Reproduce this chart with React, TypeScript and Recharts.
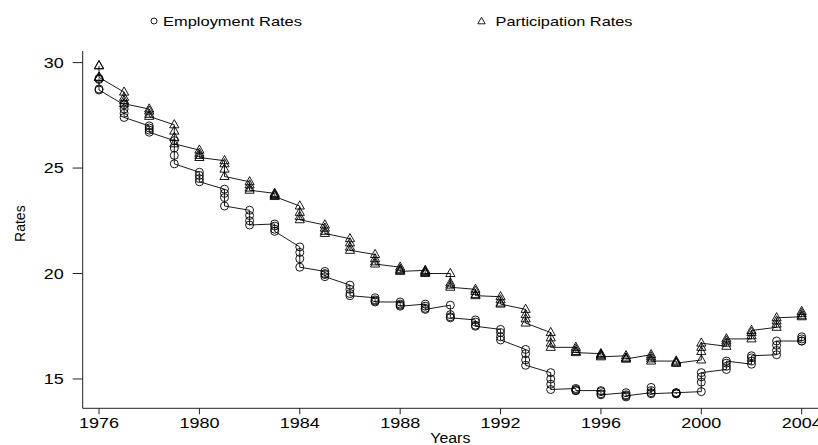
import React from 'react';
import { LineChart, Line, XAxis, YAxis, Legend } from 'recharts';

const years = [
  1976, 1977, 1978, 1979, 1980, 1981, 1982, 1983, 1984, 1985,
  1986, 1987, 1988, 1989, 1990, 1991, 1992, 1993, 1994, 1995,
  1996, 1997, 1998, 1999, 2000, 2001, 2002, 2003, 2004,
];

// Four observations per year, in time order
const employmentRates = [
  [29.25, 29.2, 28.75, 28.7],
  [28.0, 27.8, 27.6, 27.4],
  [27.0, 26.9, 26.8, 26.7],
  [26.3, 25.95, 25.6, 25.2],
  [24.8, 24.65, 24.5, 24.35],
  [24.0, 23.8, 23.6, 23.2],
  [23.0, 22.75, 22.5, 22.3],
  [22.35, 22.25, 22.1, 22.0],
  [21.26, 21.0, 20.7, 20.3],
  [20.1, 20.0, 19.95, 19.85],
  [19.45, 19.25, 19.05, 18.95],
  [18.85, 18.75, 18.7, 18.65],
  [18.65, 18.55, 18.5, 18.45],
  [18.55, 18.45, 18.35, 18.3],
  [18.5, 18.05, 17.95, 17.9],
  [17.8, 17.7, 17.55, 17.5],
  [17.35, 17.2, 17.0, 16.85],
  [16.4, 16.2, 15.9, 15.65],
  [15.3, 15.0, 14.75, 14.5],
  [14.55, 14.5, 14.45, 14.45],
  [14.45, 14.4, 14.3, 14.25],
  [14.35, 14.25, 14.15, 14.2],
  [14.35, 14.6, 14.45, 14.3],
  [14.35, 14.3, 14.3, 14.35],
  [14.4, 14.85, 15.1, 15.3],
  [15.45, 15.6, 15.75, 15.85],
  [15.7, 15.85, 16.0, 16.1],
  [16.15, 16.35, 16.6, 16.8],
  [16.8, 16.8, 16.9, 17.0],
];

const participationRates = [
  [29.85, 29.85, 29.3, 29.3],
  [28.6, 28.35, 28.2, 28.05],
  [27.8, 27.7, 27.55, 27.45],
  [27.05, 26.75, 26.45, 26.15],
  [25.85, 25.7, 25.6, 25.5],
  [25.35, 25.2, 24.95, 24.6],
  [24.35, 24.2, 24.05, 23.95],
  [23.8, 23.75, 23.7, 23.65],
  [23.2, 22.9, 22.7, 22.55],
  [22.3, 22.15, 22.0, 21.9],
  [21.65, 21.45, 21.25, 21.1],
  [20.9, 20.7, 20.55, 20.45],
  [20.3, 20.2, 20.15, 20.1],
  [20.15, 20.1, 20.05, 20.0],
  [20.0, 19.55, 19.45, 19.35],
  [19.25, 19.15, 19.0, 18.95],
  [18.9, 18.75, 18.6, 18.55],
  [18.3, 18.05, 17.85, 17.65],
  [17.2, 16.95, 16.7, 16.5],
  [16.5, 16.4, 16.3, 16.25],
  [16.2, 16.15, 16.1, 16.05],
  [16.1, 16.0, 15.95, 15.95],
  [16.15, 16.05, 15.95, 15.85],
  [15.85, 15.8, 15.75, 15.75],
  [15.9, 16.3, 16.5, 16.7],
  [16.55, 16.7, 16.8, 16.9],
  [16.9, 17.05, 17.2, 17.3],
  [17.45, 17.6, 17.75, 17.9],
  [17.95, 18.0, 18.1, 18.2],
];

const xTicks = [1976, 1980, 1984, 1988, 1992, 1996, 2000, 2004];
const yTicks = [15, 20, 25, 30];

const seriesNames = ['Employment Rates', 'Participation Rates'];

const toPoints = (vals: number[][]) =>
  years.flatMap((yr, i) => vals[i].map((v) => ({ year: yr, rate: v })));

const empPoints = toPoints(employmentRates);
const partPoints = toPoints(participationRates);

const FONT = '"Liberation Sans", Arial, sans-serif';
const INK = '#000';

const renderCircle = (props: any) => {
  const { cx, cy, index } = props;
  if (cx == null || cy == null) return <g key={`c-${index}`} />;
  return (
    <circle key={`c-${index}`} cx={cx} cy={cy} r={4} fill="none" stroke={INK} strokeWidth={0.9} />
  );
};

const renderTriangle = (props: any) => {
  const { cx, cy, index } = props;
  if (cx == null || cy == null) return <g key={`t-${index}`} />;
  const d = `M${cx},${cy - 5.2} L${cx - 4.6},${cy + 3} L${cx + 4.6},${cy + 3} Z`;
  return <path key={`t-${index}`} d={d} fill="none" stroke={INK} strokeWidth={0.9} />;
};

const XTick = (props: any) => {
  const { x, y, payload } = props;
  const s = String(payload.value);
  return (
    <text x={x} y={y} dy="0.72em" textAnchor="middle" fontFamily={FONT} fontSize={14}
      fill={INK} textLength={s.length * 10} lengthAdjust="spacingAndGlyphs">
      {s}
    </text>
  );
};

const YTick = (props: any) => {
  const { x, y, payload } = props;
  const s = String(payload.value);
  return (
    <text x={x} y={y} dy="0.36em" textAnchor="end" fontFamily={FONT} fontSize={14}
      fill={INK} textLength={s.length * 10} lengthAdjust="spacingAndGlyphs">
      {s}
    </text>
  );
};

const LegendContent = () => (
  <svg width={810} height={30} style={{ display: 'block' }}>
    <circle cx={146} cy={13} r={3} fill="none" stroke={INK} strokeWidth={0.9} />
    <text x={155} y={13} dy="0.36em" fontFamily={FONT} fontSize={13} fill={INK}
      textLength={139} lengthAdjust="spacingAndGlyphs">
      {seriesNames[0]}
    </text>
    <path d="M473.5,9.3 L469.8,15.8 L477.2,15.8 Z" fill="none" stroke={INK} strokeWidth={0.9} />
    <text x={487.5} y={13} dy="0.36em" fontFamily={FONT} fontSize={13} fill={INK}
      textLength={137} lengthAdjust="spacingAndGlyphs">
      {seriesNames[1]}
    </text>
  </svg>
);

export default function App() {
  return (
    <div style={{ position: 'absolute', left: 8, top: 8, width: 810, height: 437 }}>
      <LineChart width={810} height={437} margin={{ top: 43, right: 0, left: 0, bottom: 0 }}>
        <XAxis
          dataKey="year"
          type="number"
          domain={[1975.35, 2004.65]}
          allowDataOverflow
          ticks={xTicks}
          tick={<XTick />}
          tickSize={6}
          tickMargin={4}
          height={36.7}
          axisLine={{ stroke: '#222', strokeWidth: 1 }}
          tickLine={{ stroke: '#222', strokeWidth: 1 }}
          label={({ viewBox }: any) => (
            <text x={viewBox.x + viewBox.width / 2} y={viewBox.y + 35} textAnchor="middle"
              fontFamily={FONT} fontSize={14} fill={INK} textLength={40} lengthAdjust="spacingAndGlyphs">
              Years
            </text>
          )}
        />
        <YAxis
          dataKey="rate"
          type="number"
          domain={[13.61, 30.55]}
          allowDataOverflow
          ticks={yTicks}
          tick={<YTick />}
          tickSize={10}
          tickMargin={9}
          width={74.7}
          axisLine={{ stroke: '#222', strokeWidth: 1 }}
          tickLine={{ stroke: '#222', strokeWidth: 1 }}
          label={({ viewBox }: any) => (
            <text x={17} y={viewBox.y + viewBox.height / 2 - 6} textAnchor="middle"
              transform={`rotate(-90, 17, ${viewBox.y + viewBox.height / 2 - 6})`}
              fontFamily={FONT} fontSize={14} fill={INK}>
              Rates
            </text>
          )}
        />
        <Legend
          layout="horizontal"
          verticalAlign="middle"
          align="center"
          wrapperStyle={{ position: 'absolute', left: 0, top: 0, width: 810, height: 30 }}
          content={<LegendContent />}
        />
        <Line
          data={empPoints}
          dataKey="rate"
          name={seriesNames[0]}
          type="linear"
          stroke={INK}
          strokeWidth={0.9}
          dot={renderCircle}
          activeDot={false}
          isAnimationActive={false}
        />
        <Line
          data={partPoints}
          dataKey="rate"
          name={seriesNames[1]}
          type="linear"
          stroke={INK}
          strokeWidth={0.9}
          dot={renderTriangle}
          activeDot={false}
          isAnimationActive={false}
        />
      </LineChart>
    </div>
  );
}
